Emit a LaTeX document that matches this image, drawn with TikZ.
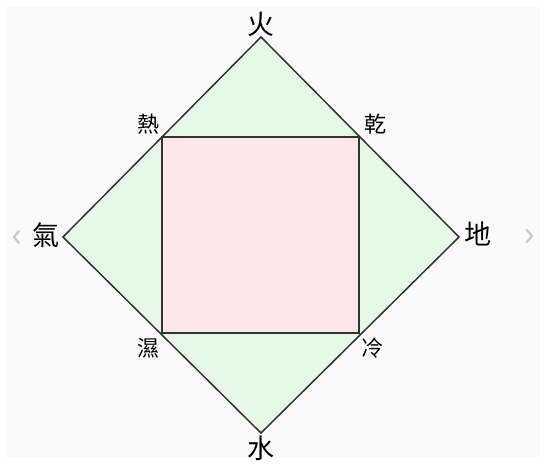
\documentclass[tikz,border=0pt]{standalone}
\usepackage{fontspec}
\newfontfamily\cjk{Noto Sans CJK TC}
\usetikzlibrary{positioning}
\definecolor{panel}{HTML}{FAFAFA}
\definecolor{leaf}{HTML}{E6F9E6}
\definecolor{blush}{HTML}{FFE6E6}
\definecolor{edge}{HTML}{333333}
\definecolor{chev}{HTML}{C8C8C8}
\tikzset{
  element/.style={font=\cjk\fontsize{27}{27}\selectfont, inner sep=0pt},
  quality/.style={font=\cjk\fontsize{22}{22}\selectfont, inner sep=0pt},
  shapeline/.style={draw=edge, line width=1.5pt, line join=miter},
  navmark/.style={draw=chev, line width=2.2pt, line cap=round, line join=round},
}

\begin{document}
\begin{tikzpicture}[x=1pt,y=-1pt]
  \useasboundingbox[fill=white] (0,0) rectangle (546,464);
  \fill[panel] (6,7) rectangle (540,457);
  % diamond of the four elements
  \coordinate (fire)  at (261,37);
  \coordinate (earth) at (459,237);
  \coordinate (water) at (261,433);
  \coordinate (air)   at (63,237);
  \filldraw[shapeline, fill=leaf] (fire) -- (earth) -- (water) -- (air) -- cycle;
  % square of the four qualities
  \coordinate (hot)  at (162,137);
  \coordinate (dry)  at (359,137);
  \coordinate (cold) at (359,333);
  \coordinate (wet)  at (162,333);
  \filldraw[shapeline, fill=blush] (hot) -- (dry) -- (cold) -- (wet) -- cycle;
  % labels
  \node[element] (firelbl)  at (261,24)  {火};
  \node[element] (earthlbl) at (478,234) {地};
  \node[element] (waterlbl) at (261,448) {水};
  \node[element] (airlbl)   at (46,235)  {氣};
  \node[quality] (hotlbl)  at (148,124) {熱};
  \node[quality] (drylbl)  at (375,124) {乾};
  \node[quality] (coldlbl) at (372,348) {冷};
  \node[quality] (wetlbl)  at (148,348) {濕};
  % carousel marks
  \draw[navmark] (19,231) -- (14,237) -- (19,243);
  \draw[navmark] (527,230) -- (532,236) -- (527,242);
\end{tikzpicture}
\end{document}
